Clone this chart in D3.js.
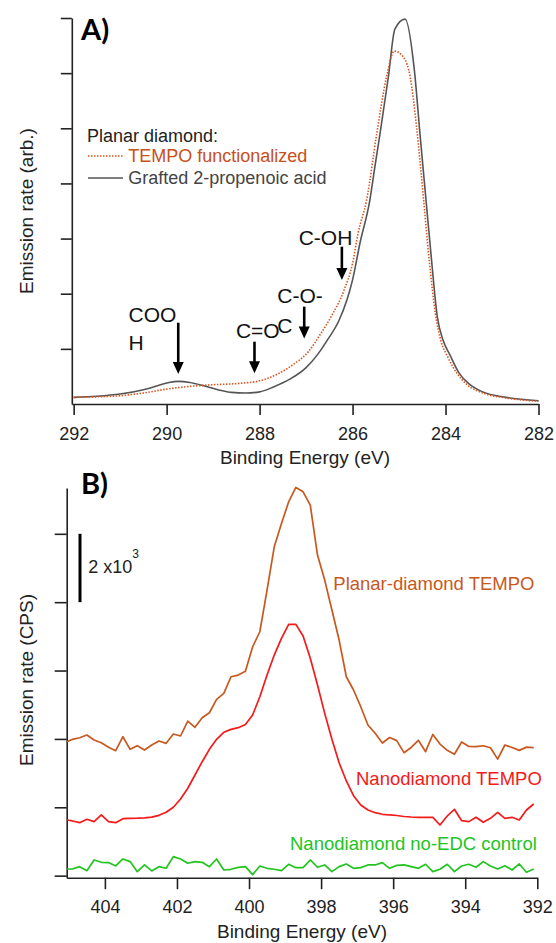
<!DOCTYPE html>
<html>
<head>
<meta charset="utf-8">
<script src="https://cdn.jsdelivr.net/npm/d3@7"></script>
<style>
  body { margin: 0; background: #fff; }
  svg { font-family: "Liberation Sans", Arial, sans-serif; }
</style>
</head>
<body>
<script>
// ---- panel A : C 1s, planar diamond ----
var ticksA = [292, 290, 288, 286, 284, 282];

// [binding energy (eV), emission (arb.)]
var grafted = [
  [292.0, 0.12], [291.5, 0.14], [291.0, 0.18], [290.5, 0.26], [290.2, 0.33],
  [289.95, 0.39], [289.75, 0.41], [289.5, 0.39], [289.2, 0.33], [288.9, 0.26],
  [288.6, 0.21], [288.3, 0.2], [288.0, 0.22], [287.7, 0.31], [287.35, 0.45],
  [287.0, 0.66], [286.75, 0.9], [286.55, 1.15], [286.3, 1.5], [286.12, 1.89],
  [286.0, 2.25], [285.84, 2.92], [285.63, 3.69], [285.52, 4.3], [285.41, 4.9],
  [285.23, 5.93], [285.09, 6.8], [284.87, 6.98], [284.67, 6.05], [284.55, 4.9],
  [284.42, 3.7], [284.3, 2.6], [284.18, 1.6], [284.05, 1.15], [283.9, 0.88],
  [283.7, 0.55], [283.5, 0.37], [283.2, 0.22], [282.7, 0.12], [282.0, 0.06]
];

var tempoA = [
  [292.0, 0.12], [291.5, 0.13], [291.0, 0.15], [290.5, 0.2], [290.0, 0.27],
  [289.5, 0.32], [289.0, 0.35], [288.5, 0.37], [288.0, 0.42], [287.6, 0.55],
  [287.27, 0.72], [286.95, 0.95], [286.69, 1.27], [286.45, 1.6], [286.19, 2.05],
  [286.0, 2.55], [285.88, 3.1], [285.7, 3.69], [285.48, 4.9], [285.27, 5.93],
  [285.1, 6.4], [284.89, 6.27], [284.76, 5.93], [284.62, 5.0], [284.47, 3.69],
  [284.35, 2.6], [284.22, 1.65], [284.1, 1.15], [283.95, 0.85], [283.75, 0.55],
  [283.55, 0.36], [283.2, 0.2], [282.7, 0.11], [282.0, 0.05]
];

// annotation text / arrows placed in data units
var peakLabels = [
  {lines: ["COO", "H"], ev: 290.82, v: [1.49, 0.98]},
  {lines: ["C=O"], ev: 288.51, v: [1.19]},
  {lines: ["C-O-", "C"], ev: 287.62, v: [1.826, 1.293]},
  {lines: ["C-OH"], ev: 287.16, v: [2.884]}
];
var peakArrows = [
  {ev: 289.75, from: 1.474, to: 0.544},
  {ev: 288.11, from: 1.13, to: 0.557},
  {ev: 287.04, from: 1.765, to: 1.19},
  {ev: 286.23, from: 2.853, to: 2.249}
];

// ---- panel B : N 1s ----
var ticksB = [404, 402, 400, 398, 396, 394, 392];

var energyB = [
  405.05, 404.9, 404.7, 404.5, 404.3, 404.1, 403.9, 403.7, 403.5, 403.3, 403.1,
  402.9, 402.7, 402.5, 402.3, 402.1, 401.9, 401.7, 401.5, 401.3, 401.1,
  400.9, 400.7, 400.5, 400.3, 400.1, 399.9, 399.7, 399.5, 399.3, 399.1,
  398.9, 398.7, 398.5, 398.3, 398.1, 397.9, 397.7, 397.5, 397.3, 397.1,
  396.9, 396.7, 396.5, 396.3, 396.1, 395.9, 395.7, 395.5, 395.3, 395.1,
  394.9, 394.7, 394.5, 394.3, 394.1, 393.9, 393.7, 393.5, 393.3, 393.1,
  392.9, 392.7, 392.5, 392.3, 392.1
];

var planarTempo = [
  3918, 3988, 4035, 4114, 3968, 3889, 3755, 3655, 4064, 3696, 3801,
  3675, 3822, 3938, 3871, 4143, 4085, 4523, 4339, 4620, 4766,
  5158, 5333, 5819, 5868, 5980, 6696, 7135, 8354, 9620, 10304,
  10936, 11357, 11228, 10839, 9377, 8646, 7769, 6892, 5819, 5430,
  4942, 4406, 4164, 3880, 4040, 3950, 3597, 3750, 3960, 3626,
  4130, 3850, 3665, 3550, 3910, 3780, 3772, 3800, 3740, 3408,
  3822, 3750, 3665, 3760, 3743
];

var nanoTempo = [
  1629, 1600, 1550, 1649, 1580, 1775, 1580, 1550, 1667, 1677, 1680,
  1690, 1710, 1765, 1853, 2000, 2243, 2556, 2945, 3333, 3696,
  3988, 4193, 4280, 4328, 4420, 4699, 5234, 5868, 6453, 6942,
  7351, 7351, 7009, 6357, 5576, 4748, 3988, 3304, 2769, 2339,
  2067, 1921, 1842, 1795, 1775, 1760, 1730, 1716, 1707, 1707,
  1707, 1482, 1745, 1941, 1608, 1580, 1707, 1561, 1678, 1853,
  1678, 1707, 1629, 1921, 2096
];

var nanoControl = [
  195, 195, 263, 146, 459, 391, 382, 283, 488, 411, 117,
  313, 137, 263, 216, 556, 488, 362, 411, 391, 263,
  488, 166, 186, 244, 263, 30, 283, 215, 187, 148,
  333, 234, 234, 459, 245, 313, 117, 263, 342, 215,
  234, 313, 313, 380, 215, 300, 313, 263, 215, 333,
  117, 187, 333, 117, 283, 333, 245, 410, 283, 195,
  292, 166, 342, 100, 195
];

var ink = "#222",
    orangeA = "#d9541e",
    grayA = "#555",
    orangeB = "#c8581e",
    redB = "#f41a1a",
    greenB = "#22c41f";

var svg = d3.select("body").append("svg")
    .attr("width", 556)
    .attr("height", 943);

svg.append("rect").attr("width", 556).attr("height", 943).attr("fill", "#fff");

function styleAxis(g, fontSize) {
  g.attr("font-family", null).attr("font-size", null);
  g.select(".domain").attr("stroke", ink).attr("stroke-width", 1.6);
  g.selectAll(".tick line").attr("stroke", ink).attr("stroke-width", 1.6);
  g.selectAll(".tick text").attr("fill", ink).style("font-size", fontSize + "px");
}

// ================= A =================
var xA = d3.scaleLinear().domain([292.04, 282]).range([71.8, 538.5]);
var yA = d3.scaleLinear().domain([0, 7]).range([404, 18]);

svg.append("g")
    .attr("transform", "translate(0,404)")
    .call(d3.axisBottom(xA).tickValues(ticksA).tickSize(11).tickSizeOuter(0)
      .tickPadding(12).tickFormat(d3.format("d")))
    .call(styleAxis, 18);

svg.append("g")
    .attr("transform", "translate(71.8,0)")
    .call(d3.axisLeft(yA).tickValues([1, 2, 3, 4, 5, 6, 7]).tickSize(11)
      .tickSizeOuter(0).tickFormat(""))
    .call(styleAxis, 18);

var lineA = d3.line()
    .x(function(d) { return xA(d[0]); })
    .y(function(d) { return yA(d[1]); })
    .curve(d3.curveMonotoneX);

svg.append("path")
    .datum(grafted)
    .attr("fill", "none")
    .attr("stroke", grayA)
    .attr("stroke-width", 1.6)
    .attr("stroke-linejoin", "round")
    .attr("d", lineA);

svg.append("path")
    .datum(tempoA)
    .attr("fill", "none")
    .attr("stroke", orangeA)
    .attr("stroke-width", 1.6)
    .attr("stroke-dasharray", "1.5,1.5")
    .attr("d", lineA);

// peak assignments
peakLabels.forEach(function(p) {
  p.lines.forEach(function(t, i) {
    svg.append("text")
        .attr("x", xA(p.ev))
        .attr("y", yA(p.v[i]))
        .attr("fill", "#111")
        .style("font-size", "21px")
        .text(t);
  });
});

peakArrows.forEach(function(a) {
  var x = xA(a.ev), y0 = yA(a.from), y1 = yA(a.to);
  svg.append("line")
      .attr("x1", x).attr("x2", x)
      .attr("y1", y0).attr("y2", y1 - 9)
      .attr("stroke", "#000").attr("stroke-width", 2.6);
  svg.append("path")
      .attr("d", "M" + (x - 5.5) + "," + (y1 - 12) + "L" + (x + 5.5) + "," + (y1 - 12) +
            "L" + x + "," + y1 + "Z")
      .attr("fill", "#000");
});

// legend
svg.append("text").attr("x", 87).attr("y", 141.7).attr("fill", ink)
    .style("font-size", "18px").text("Planar diamond:");
svg.append("line").attr("x1", 88).attr("x2", 123).attr("y1", 156).attr("y2", 156)
    .attr("stroke", orangeA).attr("stroke-width", 1.6).attr("stroke-dasharray", "1.5,1.5");
svg.append("text").attr("x", 128.3).attr("y", 162.3).attr("fill", "#c8501a")
    .style("font-size", "18px").text("TEMPO functionalized");
svg.append("line").attr("x1", 88).attr("x2", 123).attr("y1", 178).attr("y2", 178)
    .attr("stroke", grayA).attr("stroke-width", 1.6);
svg.append("text").attr("x", 128.3).attr("y", 184).attr("fill", "#444")
    .style("font-size", "18px").text("Grafted 2-propenoic acid");

svg.append("text").attr("x", 305).attr("y", 464).attr("text-anchor", "middle")
    .attr("fill", ink).style("font-size", "19px").text("Binding Energy (eV)");
svg.append("text").attr("transform", "translate(33,211) rotate(-90)")
    .attr("text-anchor", "middle").attr("fill", ink).style("font-size", "19px")
    .text("Emission rate (arb.)");

svg.append("text").attr("x", 81).attr("y", 39.5)
    .style("font-family", "Lato, 'Liberation Sans', sans-serif")
    .style("font-weight", "bold").style("font-size", "29px").attr("fill", "#000").text("A)");

// ================= B =================
var xB = d3.scaleLinear().domain([405.06, 392]).range([66.7, 537.3]);
var yB = d3.scaleLinear().domain([-60, 11340]).range([877.7, 488]);

svg.append("g")
    .attr("transform", "translate(0,877.7)")
    .call(d3.axisBottom(xB).tickValues(ticksB).tickSize(11.5).tickSizeOuter(0)
      .tickPadding(11.3).tickFormat(d3.format("d")))
    .call(styleAxis, 18);

svg.append("g")
    .attr("transform", "translate(66.7,0)")
    .call(d3.axisLeft(yB).tickValues([0, 2000, 4000, 6000, 8000, 10000]).tickSize(12)
      .tickSizeOuter(0).tickFormat(""))
    .call(styleAxis, 18);

var lineB = function(vals) {
  return d3.line()
      .x(function(d, i) { return xB(energyB[i]); })
      .y(function(d) { return yB(d); })(vals);
};

[[planarTempo, orangeB], [nanoTempo, redB], [nanoControl, greenB]].forEach(function(s) {
  svg.append("path")
      .attr("fill", "none")
      .attr("stroke", s[1])
      .attr("stroke-width", 1.7)
      .attr("stroke-linejoin", "round")
      .attr("d", lineB(s[0]));
});

// scale bar 2000 CPS
svg.append("line")
    .attr("x1", 80).attr("x2", 80)
    .attr("y1", yB(10000)).attr("y2", yB(8000))
    .attr("stroke", "#000").attr("stroke-width", 3);
var sb = svg.append("text").attr("x", 88.3).attr("y", 573.3).attr("fill", ink)
    .style("font-size", "18px");
sb.append("tspan").text("2 x10");
sb.append("tspan").attr("dy", -15).style("font-size", "12px").text("3");

svg.append("text").attr("x", 333.3).attr("y", 590).attr("fill", orangeB)
    .style("font-size", "18.5px").text("Planar-diamond TEMPO");
svg.append("text").attr("x", 356).attr("y", 785).attr("fill", redB)
    .style("font-size", "18.5px").text("Nanodiamond TEMPO");
svg.append("text").attr("x", 290).attr("y", 850).attr("fill", greenB)
    .style("font-size", "18.5px").text("Nanodiamond no-EDC control");

svg.append("text").attr("x", 302).attr("y", 938).attr("text-anchor", "middle")
    .attr("fill", ink).style("font-size", "19px").text("Binding Energy (eV)");
svg.append("text").attr("transform", "translate(33,680) rotate(-90)")
    .attr("text-anchor", "middle").attr("fill", ink).style("font-size", "19px")
    .text("Emission rate (CPS)");

svg.append("text").attr("x", 81).attr("y", 493.5)
    .style("font-family", "Lato, 'Liberation Sans', sans-serif")
    .style("font-weight", "bold").style("font-size", "29px").attr("fill", "#000").text("B)");
</script>
</body>
</html>
